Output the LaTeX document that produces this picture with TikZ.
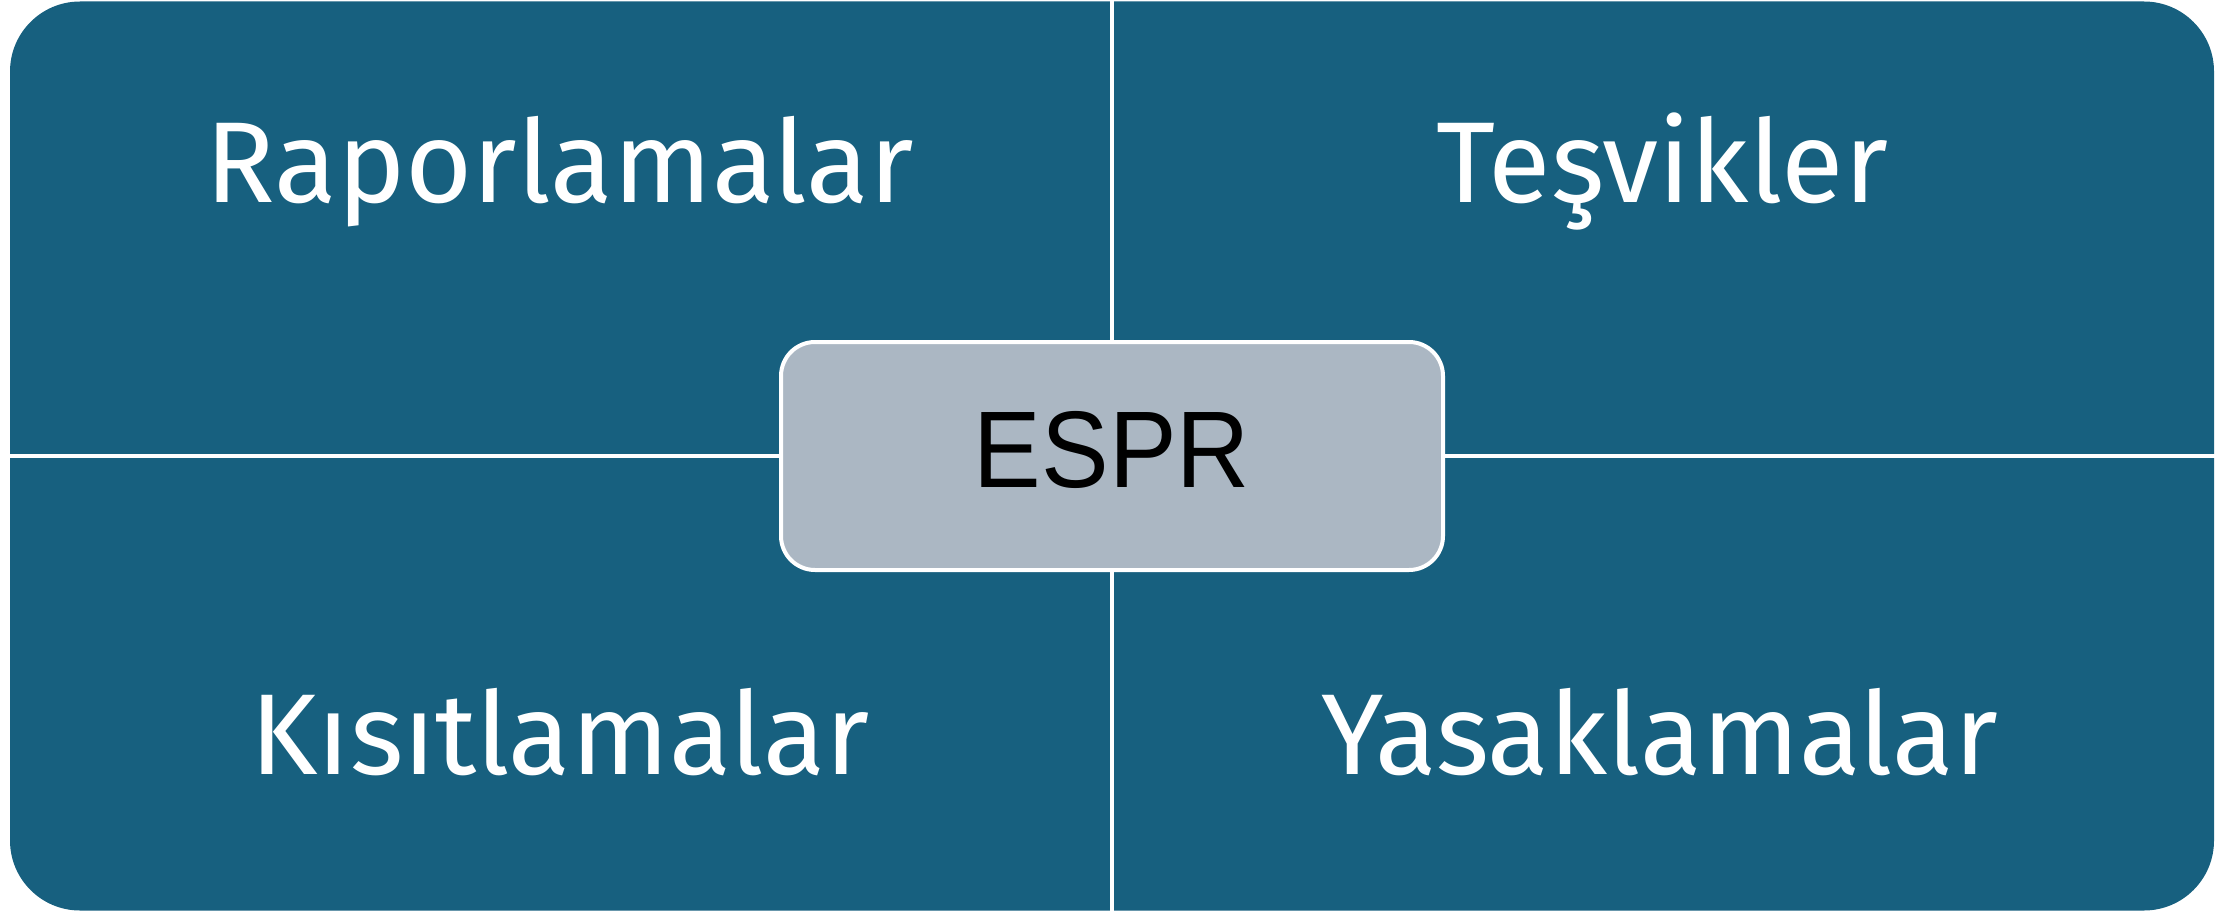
\documentclass[tikz,border=0pt]{standalone}
\usepackage{fontspec}
\setmainfont{Liberation Sans}
\newfontfamily\labfont{Fira Sans}
\definecolor{quadblue}{HTML}{17607F}
\definecolor{centergray}{HTML}{ABB7C3}
\begin{document}
\begin{tikzpicture}[x=1pt,y=-1pt,
  lab/.style={text=white,anchor=base,inner sep=0pt,font=\labfont\fontsize{115}{130}\selectfont},
  esprbox/.style={draw=white,line width=4pt,fill=centergray,rounded corners=34pt,
    minimum width=662pt,minimum height=228pt,inner sep=0pt,text depth=14pt,
    font=\fontsize{109}{120}\selectfont},
  gap/.style={fill=white}]
\useasboundingbox (0,0) rectangle (2239,912);
\fill[quadblue,rounded corners=70pt] (10,1.5) rectangle (2214,910.5);
\fill[gap] (1110,0) rectangle (1114,912);
\fill[gap] (0,454) rectangle (2239,458);
\node[esprbox] (espr) at (1112,456) {\scalebox{0.93}[1]{ESPR}};
\node[lab] (rap) at (560,203) {\resizebox{708pt}{\height}{Raporlamalar}};
\node[lab] (tes) at (1662,203) {\resizebox{452pt}{\height}{Teşvikler}};
\node[lab] (kis) at (560,774) {\resizebox{619pt}{\height}{Kısıtlamalar}};
\node[lab] (yas) at (1660,774) {\resizebox{676pt}{\height}{Yasaklamalar}};
\end{tikzpicture}
\end{document}
